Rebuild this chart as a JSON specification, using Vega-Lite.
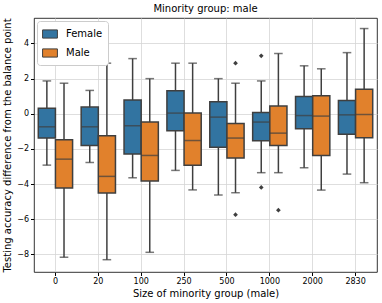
{
  "$schema": "https://vega.github.io/schema/vega-lite/v6.json",
  "width": 343,
  "height": 254,
  "autosize": {"type": "none"},
  "padding": {"left": 34, "top": 18, "right": 5, "bottom": 31},
  "title": {"text": "Minority group: male", "fontSize": 10, "fontWeight": "normal", "font": "DejaVu Sans", "offset": 4, "color": "#000"},
  "config": {
    "font": "DejaVu Sans",
    "view": {"stroke": "#000", "strokeWidth": 0.8},
    "axis": {"domain": false, "gridColor": "#d5d5d5", "gridWidth": 0.8, "tickColor": "#000", "tickSize": 3.5, "labelFontSize": 8, "labelColor": "#000", "titleFontSize": 10, "titleFontWeight": "normal", "titleColor": "#000"}
  },
  "datasets": {
    "boxes": [
      {"group": "0", "sex": "Female", "lower": -2.92, "q1": -1.38, "median": -0.74, "q3": 0.32, "upper": 1.87},
      {"group": "0", "sex": "Male", "lower": -8.16, "q1": -4.22, "median": -2.58, "q3": -1.48, "upper": 1.74},
      {"group": "20", "sex": "Female", "lower": -2.77, "q1": -1.8, "median": -0.74, "q3": 0.38, "upper": 1.33},
      {"group": "20", "sex": "Male", "lower": -8.3, "q1": -4.51, "median": -3.56, "q3": -1.25, "upper": 2.88},
      {"group": "100", "sex": "Female", "lower": -3.64, "q1": -2.29, "median": -0.68, "q3": 0.78, "upper": 3.14},
      {"group": "100", "sex": "Male", "lower": -7.88, "q1": -3.83, "median": -2.37, "q3": -0.47, "upper": 2.0},
      {"group": "250", "sex": "Female", "lower": -3.22, "q1": -0.97, "median": 0.04, "q3": 1.31, "upper": 2.88},
      {"group": "250", "sex": "Male", "lower": -4.33, "q1": -2.92, "median": -1.52, "q3": 0.04, "upper": 2.88},
      {"group": "500", "sex": "Female", "lower": -4.62, "q1": -1.91, "median": -0.19, "q3": 0.68, "upper": 2.0},
      {"group": "500", "sex": "Male", "lower": -4.49, "q1": -2.52, "median": -1.38, "q3": -0.55, "upper": 1.74},
      {"group": "1000", "sex": "Female", "lower": -3.35, "q1": -1.53, "median": -0.47, "q3": 0.07, "upper": 1.87},
      {"group": "1000", "sex": "Male", "lower": -3.35, "q1": -1.8, "median": -1.1, "q3": 0.44, "upper": 3.43},
      {"group": "2000", "sex": "Female", "lower": -3.07, "q1": -0.85, "median": -0.1, "q3": 0.98, "upper": 2.73},
      {"group": "2000", "sex": "Male", "lower": -4.34, "q1": -2.37, "median": -0.13, "q3": 1.02, "upper": 2.56},
      {"group": "2830", "sex": "Female", "lower": -3.43, "q1": -1.16, "median": -0.06, "q3": 0.76, "upper": 3.48},
      {"group": "2830", "sex": "Male", "lower": -3.92, "q1": -1.36, "median": -0.04, "q3": 1.4, "upper": 4.85}
    ],
    "outliers": [
      {"group": "500", "sex": "Male", "value": 2.88},
      {"group": "500", "sex": "Male", "value": -5.74},
      {"group": "1000", "sex": "Female", "value": 3.3},
      {"group": "1000", "sex": "Female", "value": -4.19},
      {"group": "1000", "sex": "Male", "value": -5.48}
    ]
  },
  "encoding": {
    "x": {"field": "group", "type": "nominal", "sort": ["0", "20", "100", "250", "500", "1000", "2000", "2830"],
      "scale": {"paddingInner": 0, "paddingOuter": 0},
      "axis": {"title": "Size of minority group (male)", "labelAngle": 0, "grid": true, "titlePadding": 3}},
    "xOffset": {"field": "sex", "type": "nominal", "scale": {"domain": ["Female", "Male"], "paddingInner": 0, "paddingOuter": 0.25}}
  },
  "layer": [
    {
      "data": {"name": "boxes"},
      "mark": {"type": "rule", "color": "#3f3f3f", "strokeWidth": 1.5},
      "encoding": {
        "y": {"field": "lower", "type": "quantitative", "scale": {"domain": [-9.0, 5.45], "nice": false, "zero": false},
          "axis": {"title": "Testing accuracy difference from the balance point", "values": [-8, -6, -4, -2, 0, 2, 4], "grid": true, "titlePadding": 4}},
        "y2": {"field": "upper"}
      }
    },
    {
      "data": {"name": "boxes"},
      "mark": {"type": "tick", "color": "#3f3f3f", "size": 8.6, "thickness": 1.5},
      "encoding": {"y": {"field": "upper", "type": "quantitative"}}
    },
    {
      "data": {"name": "boxes"},
      "mark": {"type": "tick", "color": "#3f3f3f", "size": 8.6, "thickness": 1.5},
      "encoding": {"y": {"field": "lower", "type": "quantitative"}}
    },
    {
      "data": {"name": "boxes"},
      "mark": {"type": "bar", "stroke": "#3f3f3f", "strokeWidth": 1.5, "opacity": 1},
      "encoding": {
        "y": {"field": "q1", "type": "quantitative"},
        "y2": {"field": "q3"},
        "color": {"field": "sex", "type": "nominal", "scale": {"domain": ["Female", "Male"], "range": ["#3274a1", "#e1812c"]},
          "legend": {"title": null, "orient": "top-left", "offset": 3, "fillColor": "white", "strokeColor": "#cccccc", "cornerRadius": 3, "padding": 5,
            "symbolType": "M-1,-0.55H1V0.55H-1Z", "symbolSize": 220, "symbolStrokeColor": "#3f3f3f", "symbolStrokeWidth": 1, "symbolOpacity": 1, "labelFontSize": 10, "labelColor": "#000", "rowPadding": 4, "labelOffset": 8}}
      }
    },
    {
      "data": {"name": "boxes"},
      "mark": {"type": "tick", "color": "#3f3f3f", "size": 17, "thickness": 1.5},
      "encoding": {"y": {"field": "median", "type": "quantitative"}}
    },
    {
      "data": {"name": "outliers"},
      "mark": {"type": "point", "shape": "diamond", "filled": true, "color": "#3f3f3f", "size": 22, "opacity": 1},
      "encoding": {"y": {"field": "value", "type": "quantitative"}}
    }
  ]
}
